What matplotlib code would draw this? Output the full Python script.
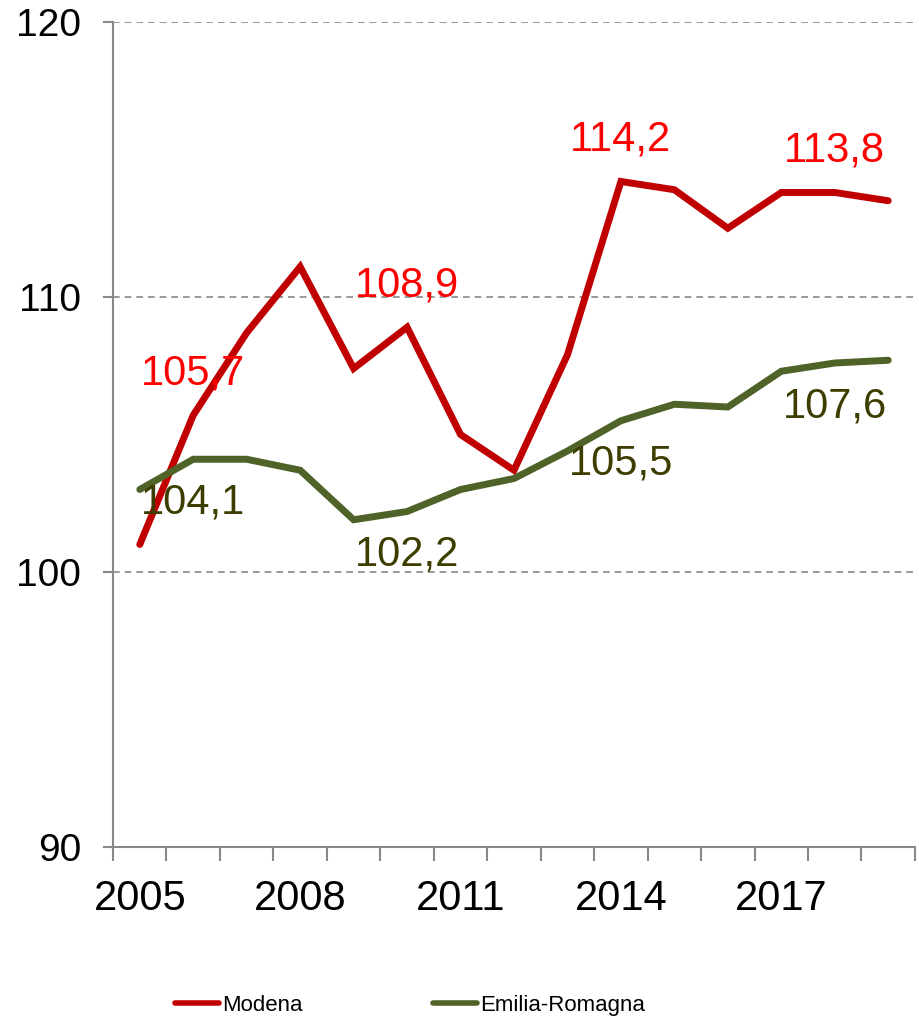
import matplotlib.pyplot as plt
from matplotlib.ticker import FixedLocator

plt.rcParams['font.family'] = ['Liberation Sans', 'DejaVu Sans']

# Serie storiche (indice)
anni = list(range(2005, 2020))
modena = [101.0, 105.7, 108.7, 111.1, 107.4, 108.9, 105.0, 103.7, 107.9,
          114.2, 113.9, 112.5, 113.8, 113.8, 113.5]
emilia = [103.0, 104.1, 104.1, 103.7, 101.9, 102.2, 103.0, 103.4, 104.4,
          105.5, 106.1, 106.0, 107.3, 107.6, 107.7]
anni_etichetta = [2005, 2008, 2011, 2014, 2017]
anni_valori_modena = [2006, 2010, 2014, 2018]
anni_valori_emilia = [2006, 2010, 2014, 2018]

col_modena = '#c00000'
col_emilia = '#4f6228'
grigio = '#888888'

fig = plt.figure(figsize=(9.19, 10.22), dpi=100)
ax = fig.add_axes([0.123, 0.1712, 0.8726, 0.8073])

x = list(range(len(anni)))
ax.plot(x, modena, color=col_modena, lw=5, solid_capstyle='round',
        solid_joinstyle='miter', label='Modena', zorder=3)
ax.plot(x, emilia, color=col_emilia, lw=5, solid_capstyle='round',
        solid_joinstyle='miter', label='Emilia-Romagna', zorder=3)

# Etichette dei valori
for a in anni_valori_modena:
    i = anni.index(a)
    ax.annotate(f'{modena[i]:.1f}'.replace('.', ','), (i, modena[i]),
                xytext=(0, 30), textcoords='offset points', ha='center',
                va='center', color='#ff0000', fontsize=30, zorder=4)
for a in anni_valori_emilia:
    i = anni.index(a)
    ax.annotate(f'{emilia[i]:.1f}'.replace('.', ','), (i, emilia[i]),
                xytext=(0, -31), textcoords='offset points', ha='center',
                va='center', color='#3d3d00', fontsize=30, zorder=4)

ax.set_xlim(-0.5, len(anni) - 0.5)
ax.set_ylim(90, 120)
ax.set_yticks([90, 100, 110, 120])
ax.tick_params(axis='y', labelsize=28, length=7, width=1.5, color=grigio,
               pad=16)
for v in [100, 110, 120]:
    ax.axhline(v, color=grigio, lw=1.2, ls=(0, (4, 3)), zorder=1)

ax.xaxis.set_major_locator(FixedLocator([i - 0.5 for i in range(len(anni) + 1)]))
ax.xaxis.set_minor_locator(FixedLocator([anni.index(a) for a in anni_etichetta]))
ax.xaxis.set_major_formatter(plt.NullFormatter())
ax.set_xticklabels([str(a) for a in anni_etichetta], minor=True)
ax.tick_params(axis='x', which='major', length=10, width=1.5, color=grigio)
ax.tick_params(axis='x', which='minor', length=0, labelsize=30, pad=23)

for s in ['top', 'right']:
    ax.spines[s].set_visible(False)
for s in ['left', 'bottom']:
    ax.spines[s].set_color(grigio)
    ax.spines[s].set_linewidth(1.5)

leg = fig.legend(loc='center', bbox_to_anchor=(0.446, 0.0166), ncol=2,
                 frameon=False, fontsize=16,
                 handlelength=1.98, handletextpad=0.14, columnspacing=5.85)
for h in leg.get_lines():
    h.set_linewidth(4)

fig.savefig('out.png', dpi=100)
